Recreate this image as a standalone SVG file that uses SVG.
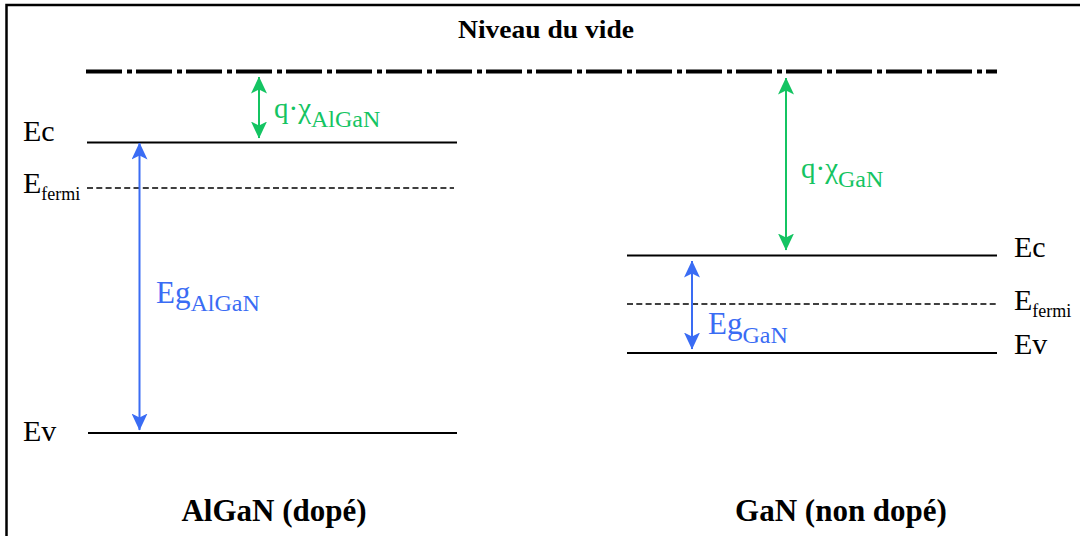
<svg xmlns="http://www.w3.org/2000/svg" width="1080" height="536" viewBox="0 0 1080 536">
<defs>
<marker id="ag" viewBox="0 0 17 16" refX="16.5" refY="8" markerWidth="17" markerHeight="16" markerUnits="userSpaceOnUse" orient="auto-start-reverse"><path d="M0,0 L17,8 L0,16 L4,8 Z" fill="#14c462"/></marker>
<marker id="ab" viewBox="0 0 17 16" refX="16.5" refY="8" markerWidth="17" markerHeight="16" markerUnits="userSpaceOnUse" orient="auto-start-reverse"><path d="M0,0 L17,8 L0,16 L4,8 Z" fill="#3a6cf4"/></marker>
</defs>
<style>
text{font-family:"Liberation Serif","Times New Roman",serif;}
.lbl{font-size:30px;fill:#000;}
.fs{font-size:18px;}
.title{font-weight:bold;fill:#000;}
.g{fill:#14c462;font-size:29px;}
.gs{font-size:24px;}
.b{fill:#3a6cf4;font-size:31px;}
.bs{font-size:24px;}
.lvl{stroke:#000;stroke-width:2;fill:none;}
.dash{stroke:#000;stroke-width:1.6;stroke-dasharray:6 3.3;fill:none;}
.ga{stroke:#14c462;stroke-width:2;marker-start:url(#ag);marker-end:url(#ag);}
.ba{stroke:#3a6cf4;stroke-width:2;marker-start:url(#ab);marker-end:url(#ab);}
</style>
<rect x="6.5" y="5" width="1090" height="560" fill="#fff" stroke="#000" stroke-width="2.5"/>
<g id="vacuum">
<line x1="86" y1="71.5" x2="997" y2="71.5" stroke="#000" stroke-width="4" stroke-dasharray="36 5 5 4"/>
<text x="458" y="38" class="title" font-size="26" textLength="176" lengthAdjust="spacingAndGlyphs">Niveau du vide</text>
</g>
<g id="algan">
<line class="lvl" x1="87" y1="142.5" x2="457" y2="142.5"/>
<line class="dash" x1="87" y1="188" x2="454" y2="188"/>
<line class="lvl" x1="88" y1="433" x2="457" y2="433"/>
<text x="23" y="141" class="lbl">Ec</text>
<text x="23" y="193" class="lbl">E<tspan class="fs" dy="7">fermi</tspan></text>
<text x="23" y="441" class="lbl">Ev</text>
<text x="274" y="521" text-anchor="middle" class="title" font-size="31">AlGaN (dopé)</text>
</g>
<g id="gan">
<line class="lvl" x1="627" y1="255.5" x2="997" y2="255.5"/>
<line class="dash" x1="627" y1="304" x2="997" y2="304"/>
<line class="lvl" x1="627" y1="353" x2="997" y2="353"/>
<text x="1014" y="257" class="lbl">Ec</text>
<text x="1014" y="310" class="lbl">E<tspan class="fs" dy="7">fermi</tspan></text>
<text x="1014" y="354" class="lbl">Ev</text>
<text x="841" y="521" text-anchor="middle" class="title" font-size="31">GaN (non dopé)</text>
</g>
<g id="connectors">
<line class="ga" x1="259" y1="77" x2="259" y2="138"/>
<line class="ba" x1="139.5" y1="143" x2="139.5" y2="430"/>
<line class="ga" x1="786" y1="78" x2="786" y2="250"/>
<line class="ba" x1="692" y1="261" x2="692" y2="349"/>
</g>
<g id="labels">
<text x="274" y="118" class="g">q·χ<tspan class="gs" dy="9">AlGaN</tspan></text>
<text x="156" y="303" class="b">Eg<tspan class="bs" dy="8">AlGaN</tspan></text>
<text x="801" y="178" class="g">q·χ<tspan class="gs" dy="9">GaN</tspan></text>
<text x="708" y="334" class="b">Eg<tspan class="bs" dy="9">GaN</tspan></text>
</g>
</svg>
